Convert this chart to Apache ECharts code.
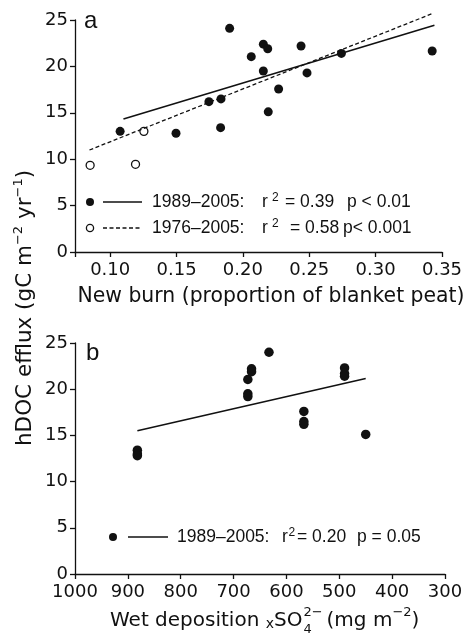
<!DOCTYPE html>
<html>
<head>
<meta charset="utf-8">
<script src="https://cdn.jsdelivr.net/npm/echarts@6/dist/echarts.min.js"></script>
<style>
html, body { margin: 0; padding: 0; background: #fff; }
#chart { width: 470px; height: 635px; }
</style>
</head>
<body>
<div id="chart"></div>
<script>
// panel a: hDOC efflux against new burn
var burnFilled = [0.1075, 0.1496, 0.1744, 0.1835, 0.1832, 0.190, 0.2063, 0.2154, 0.2187, 0.2154, 0.2191, 0.2269, 0.2438, 0.2483, 0.2742, 0.3426];
var hdocFilled = [13.0, 12.8, 16.2, 16.5, 13.4, 24.1, 21.05, 22.4, 21.9, 19.5, 15.1, 17.56, 22.2, 19.3, 21.4, 21.66];
var burnOpen = [0.0849, 0.1191, 0.1254];
var hdocOpen = [9.34, 9.45, 13.0];
var fit89X = [0.110, 0.3443];
var fit89Y = [14.33, 24.43];
var fit76X = [0.0844, 0.342];
var fit76Y = [10.99, 25.65];

// panel b: hDOC efflux against wet deposition xSO4
var depB = [882, 882, 882, 673, 673, 673, 666, 666, 633, 567, 567, 567, 490, 490, 490, 450];
var hdocB = [13.4, 13.0, 12.8, 21.05, 19.5, 19.2, 22.2, 21.9, 24.0, 17.6, 16.5, 16.2, 22.3, 21.7, 21.4, 15.1];
var fitBX = [882, 450];
var fitBY = [15.5, 21.15];

// ticks
var burnTicks = [0.10, 0.15, 0.20, 0.25, 0.30, 0.35];
var depTicks = [1000, 900, 800, 700, 600, 500, 400, 300];
var hdocTicks = [0, 5, 10, 15, 20, 25];

var ink = '#111';
var tickFont = 'DejaVu Sans';
var legFont = 'Liberation Sans';

function zip(xs, ys) {
  return xs.map(function (x, i) { return [x, ys[i]]; });
}

var ctx = document.createElement('canvas').getContext('2d');
function textW(t, size, fam) {
  ctx.font = size + 'px "' + fam + '"';
  return ctx.measureText(t).width;
}

function txt(x, y, t, size, fam, align) {
  return {
    type: 'text', x: x, y: y, silent: true,
    style: { text: t, fill: ink, font: size + 'px "' + fam + '"', align: align || 'left', verticalAlign: 'middle' }
  };
}

// one legend row: marker, line sample, text pieces at fixed x
function legendRow(y, mx, lx0, lx1, open, dashed, parts) {
  var out = [];
  out.push({
    type: 'line', silent: true,
    shape: { x1: lx0, y1: y, x2: lx1, y2: y },
    style: { stroke: ink, lineWidth: dashed ? 1.3 : 1.5, lineDash: dashed ? [4, 2.5] : null }
  });
  out.push({
    type: 'circle', silent: true,
    shape: { cx: mx, cy: y, r: open ? 3.6 : 4 },
    style: open ? { fill: '#fff', stroke: ink, lineWidth: 1.3 } : { fill: ink }
  });
  parts.forEach(function (p) {
    out.push(txt(p[0], y + (p[3] || 0), p[1], p[2], legFont));
  });
  return out;
}

var graphics = [];
graphics.push(txt(84, 21.5, 'a', 24, legFont));
graphics.push(txt(86, 353, 'b', 24, legFont));

graphics = graphics.concat(legendRow(202, 90, 103, 142, false, false, [
  [152, '1989\u20132005:', 17.5], [262, 'r', 17.5], [272, '2', 12, -4], [285, '= 0.39', 17.5], [347, 'p < 0.01', 17.5]
]));
graphics = graphics.concat(legendRow(228, 90, 103, 142, true, true, [
  [152, '1976\u20132005:', 17.5], [262, 'r', 17.5], [272, '2', 12, -4], [290, '= 0.58', 17.5], [343, 'p< 0.001', 17.5]
]));
graphics = graphics.concat(legendRow(537, 113, 128, 168, false, false, [
  [177, '1989\u20132005:', 17.5], [282, 'r', 17.5], [288.5, '2', 12, -4], [297, '= 0.20', 17.5], [357, 'p = 0.05', 17.5]
]));

// axis titles
graphics.push(txt(271, 297, 'New burn (proportion of blanket peat)', 20.4, tickFont, 'center'));

(function () {
  var y = 621, x = 110, m = 20, s = 13;
  var w;
  graphics.push(txt(x, y, 'Wet deposition ', m, tickFont));
  x += textW('Wet deposition ', m, tickFont);
  graphics.push(txt(x, y + 3, 'x', 14, tickFont));
  x += textW('x', 14, tickFont);
  graphics.push(txt(x, y, 'SO', m, tickFont));
  x += textW('SO', m, tickFont) + 1;
  graphics.push(txt(x, y - 8, '2\u2212', s, tickFont));
  graphics.push(txt(x, y + 9, '4', s, tickFont));
  w = Math.max(textW('2\u2212', s, tickFont), textW('4', s, tickFont));
  x += w + 4;
  graphics.push(txt(x, y, '(mg m', m, tickFont));
  x += textW('(mg m', m, tickFont);
  graphics.push(txt(x, y - 8, '\u22122', s, tickFont));
  x += textW('\u22122', s, tickFont);
  graphics.push(txt(x, y, ')', m, tickFont));
})();

graphics.push({
  type: 'text', x: 24.5, y: 308, rotation: Math.PI / 2, silent: true,
  style: {
    text: '{m|hDOC efflux (gC m}{s|\u22122}{m| yr}{s|\u22121}{m|)}',
    align: 'center', verticalAlign: 'middle', fill: ink,
    rich: {
      m: { fontSize: 21.5, fontFamily: tickFont, fill: ink, lineHeight: 24, verticalAlign: 'bottom' },
      s: { fontSize: 13, fontFamily: tickFont, fill: ink, lineHeight: 14, verticalAlign: 'top' }
    }
  }
});

function axisBase() {
  return {
    axisLine: { show: true, onZero: false, lineStyle: { color: ink, width: 1.3 } },
    axisTick: { show: true, length: 5, lineStyle: { color: ink, width: 1.3 } },
    splitLine: { show: false }
  };
}

function yAxisCfg(gi) {
  var a = axisBase();
  a.type = 'value';
  a.gridIndex = gi;
  a.min = hdocTicks[0];
  a.max = hdocTicks[hdocTicks.length - 1];
  a.interval = 5;
  a.axisLabel = { margin: 7, color: ink, fontSize: 18, fontFamily: tickFont };
  return a;
}

var xa = axisBase();
xa.type = 'value';
xa.gridIndex = 0;
xa.min = 0.0735;
xa.max = 0.35;
xa.axisTick.customValues = [0.0735].concat(burnTicks);
xa.axisLabel = {
  margin: 9, color: ink, fontSize: 18, fontFamily: tickFont,
  customValues: burnTicks,
  formatter: function (v) { return v.toFixed(2); }
};

var xb = axisBase();
xb.type = 'value';
xb.gridIndex = 1;
xb.min = depTicks[depTicks.length - 1];
xb.max = depTicks[0];
xb.interval = 100;
xb.inverse = true;
xb.axisLabel = {
  margin: 9, color: ink, fontSize: 18, fontFamily: tickFont, showMinLabel: true, showMaxLabel: true,
  formatter: function (v) { return String(v); }
};

var myChart = echarts.init(document.getElementById('chart'));
var option = {
  animation: false,
  backgroundColor: '#fff',
  grid: [
    { left: 75, top: 20, width: 367, height: 232 },
    { left: 75, top: 343, width: 370, height: 231 }
  ],
  xAxis: [xa, xb],
  yAxis: [yAxisCfg(0), yAxisCfg(1)],
  series: [
    {
      name: 'fit 1989-2005 a', type: 'line', xAxisIndex: 0, yAxisIndex: 0,
      data: zip(fit89X, fit89Y), showSymbol: false, silent: true, clip: false,
      lineStyle: { color: ink, width: 1.6 }
    },
    {
      name: 'fit 1976-2005 a', type: 'line', xAxisIndex: 0, yAxisIndex: 0,
      data: zip(fit76X, fit76Y), showSymbol: false, silent: true, clip: false,
      lineStyle: { color: ink, width: 1.3, type: [4, 2.5] }
    },
    {
      name: '1989-2005 a', type: 'scatter', xAxisIndex: 0, yAxisIndex: 0,
      data: zip(burnFilled, hdocFilled), symbolSize: 9,
      itemStyle: { color: ink, opacity: 1 }
    },
    {
      name: '1976-1988 a', type: 'scatter', xAxisIndex: 0, yAxisIndex: 0,
      data: zip(burnOpen, hdocOpen), symbolSize: 8,
      itemStyle: { color: '#fff', borderColor: ink, borderWidth: 1.3, opacity: 1 }
    },
    {
      name: 'fit b', type: 'line', xAxisIndex: 1, yAxisIndex: 1,
      data: zip(fitBX, fitBY), showSymbol: false, silent: true,
      lineStyle: { color: ink, width: 1.6 }
    },
    {
      name: '1989-2005 b', type: 'scatter', xAxisIndex: 1, yAxisIndex: 1,
      data: zip(depB, hdocB), symbolSize: 9.5,
      itemStyle: { color: ink, opacity: 1 }
    }
  ],
  graphic: graphics
};
myChart.setOption(option);
</script>
</body>
</html>
